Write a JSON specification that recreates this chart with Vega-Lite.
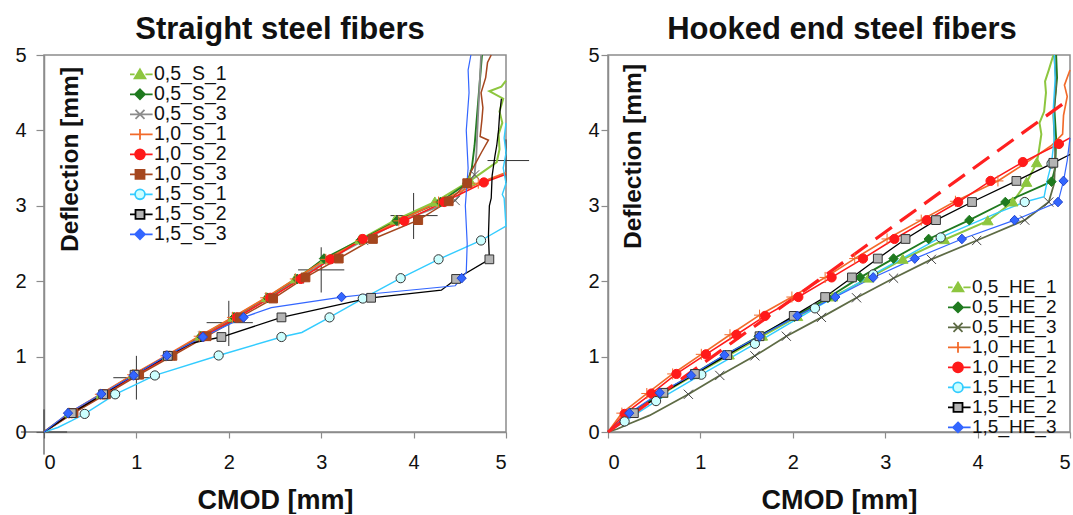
{
  "$schema": "https://vega.github.io/schema/vega-lite/v6.json",
  "padding": {"left": 14, "top": 13, "right": 0, "bottom": 0},
  "spacing": 56,
  "config": {
    "font": "Liberation Sans",
    "view": {"stroke": "#8c8c8c", "strokeWidth": 1.5},
    "axis": {"domainColor": "#8c8c8c", "domainWidth": 1.5, "tickColor": "#8c8c8c", "tickWidth": 1.2, "labelColor": "#111", "titleColor": "#111", "titleFontWeight": "bold", "labelFont": "Liberation Sans", "titleFont": "Liberation Sans", "grid": false},
    "legend": {"labelFont": "Liberation Sans"}
  },
  "resolve": {"scale": {"x": "independent", "y": "independent", "color": "independent", "fill": "independent", "stroke": "independent", "shape": "independent", "strokeWidth": "independent"}, "legend": {"color": "independent"}},
  "datasets": {
    "S_cross": [
      {"cmod": 0, "defl": 0, "cmod_lo": -0.25, "cmod_hi": 0.25, "defl_lo": -0.3, "defl_hi": 0.3},
      {"cmod": 1.0, "defl": 0.72, "cmod_lo": 0.75, "cmod_hi": 1.25, "defl_lo": 0.43, "defl_hi": 1.01},
      {"cmod": 2.0, "defl": 1.45, "cmod_lo": 1.76, "cmod_hi": 2.26, "defl_lo": 1.14, "defl_hi": 1.74},
      {"cmod": 3.0, "defl": 2.15, "cmod_lo": 2.75, "cmod_hi": 3.25, "defl_lo": 1.85, "defl_hi": 2.45},
      {"cmod": 4.0, "defl": 2.87, "cmod_lo": 3.75, "cmod_hi": 4.26, "defl_lo": 2.56, "defl_hi": 3.17},
      {"cmod": 5.0, "defl": 3.6, "cmod_lo": 4.8, "cmod_hi": 5.25, "defl_lo": 3.3, "defl_hi": 3.88}
    ],
    "S_curves": [
      {"series": "0,5_S_1", "cmod": 0, "defl": 0}, {"series": "0,5_S_1", "cmod": 0.28, "defl": 0.25}, {"series": "0,5_S_1", "cmod": 0.62, "defl": 0.5}, {"series": "0,5_S_1", "cmod": 0.97, "defl": 0.76}, {"series": "0,5_S_1", "cmod": 1.34, "defl": 1.01}, {"series": "0,5_S_1", "cmod": 1.69, "defl": 1.27}, {"series": "0,5_S_1", "cmod": 2.05, "defl": 1.52}, {"series": "0,5_S_1", "cmod": 2.41, "defl": 1.78}, {"series": "0,5_S_1", "cmod": 2.72, "defl": 2.03}, {"series": "0,5_S_1", "cmod": 3.04, "defl": 2.29}, {"series": "0,5_S_1", "cmod": 3.42, "defl": 2.55}, {"series": "0,5_S_1", "cmod": 3.8, "defl": 2.81}, {"series": "0,5_S_1", "cmod": 4.23, "defl": 3.05}, {"series": "0,5_S_1", "cmod": 4.61, "defl": 3.33}, {"series": "0,5_S_1", "cmod": 4.75, "defl": 3.45}, {"series": "0,5_S_1", "cmod": 4.9, "defl": 3.58}, {"series": "0,5_S_1", "cmod": 4.93, "defl": 3.75}, {"series": "0,5_S_1", "cmod": 4.92, "defl": 3.95}, {"series": "0,5_S_1", "cmod": 4.96, "defl": 4.1}, {"series": "0,5_S_1", "cmod": 4.93, "defl": 4.25}, {"series": "0,5_S_1", "cmod": 4.97, "defl": 4.42}, {"series": "0,5_S_1", "cmod": 4.82, "defl": 4.52}, {"series": "0,5_S_1", "cmod": 4.95, "defl": 4.58}, {"series": "0,5_S_1", "cmod": 5.0, "defl": 4.66},
      {"series": "0,5_S_2", "cmod": 0, "defl": 0}, {"series": "0,5_S_2", "cmod": 0.29, "defl": 0.25}, {"series": "0,5_S_2", "cmod": 0.63, "defl": 0.5}, {"series": "0,5_S_2", "cmod": 0.98, "defl": 0.76}, {"series": "0,5_S_2", "cmod": 1.34, "defl": 1.01}, {"series": "0,5_S_2", "cmod": 1.7, "defl": 1.27}, {"series": "0,5_S_2", "cmod": 2.06, "defl": 1.52}, {"series": "0,5_S_2", "cmod": 2.42, "defl": 1.78}, {"series": "0,5_S_2", "cmod": 2.74, "defl": 2.03}, {"series": "0,5_S_2", "cmod": 3.03, "defl": 2.3}, {"series": "0,5_S_2", "cmod": 3.43, "defl": 2.55}, {"series": "0,5_S_2", "cmod": 3.82, "defl": 2.8}, {"series": "0,5_S_2", "cmod": 4.29, "defl": 3.05}, {"series": "0,5_S_2", "cmod": 4.58, "defl": 3.3}, {"series": "0,5_S_2", "cmod": 4.63, "defl": 3.5}, {"series": "0,5_S_2", "cmod": 4.66, "defl": 3.8}, {"series": "0,5_S_2", "cmod": 4.68, "defl": 4.1}, {"series": "0,5_S_2", "cmod": 4.7, "defl": 4.4}, {"series": "0,5_S_2", "cmod": 4.72, "defl": 4.7}, {"series": "0,5_S_2", "cmod": 4.74, "defl": 5.0},
      {"series": "0,5_S_3", "cmod": 0, "defl": 0}, {"series": "0,5_S_3", "cmod": 0.31, "defl": 0.25}, {"series": "0,5_S_3", "cmod": 0.65, "defl": 0.5}, {"series": "0,5_S_3", "cmod": 1.0, "defl": 0.76}, {"series": "0,5_S_3", "cmod": 1.36, "defl": 1.01}, {"series": "0,5_S_3", "cmod": 1.72, "defl": 1.27}, {"series": "0,5_S_3", "cmod": 2.08, "defl": 1.52}, {"series": "0,5_S_3", "cmod": 2.44, "defl": 1.78}, {"series": "0,5_S_3", "cmod": 2.76, "defl": 2.03}, {"series": "0,5_S_3", "cmod": 3.08, "defl": 2.29}, {"series": "0,5_S_3", "cmod": 3.46, "defl": 2.54}, {"series": "0,5_S_3", "cmod": 3.86, "defl": 2.8}, {"series": "0,5_S_3", "cmod": 4.45, "defl": 3.07}, {"series": "0,5_S_3", "cmod": 4.66, "defl": 3.41}, {"series": "0,5_S_3", "cmod": 4.68, "defl": 3.7}, {"series": "0,5_S_3", "cmod": 4.69, "defl": 4.0}, {"series": "0,5_S_3", "cmod": 4.71, "defl": 4.5}, {"series": "0,5_S_3", "cmod": 4.73, "defl": 5.0},
      {"series": "1,0_S_1", "cmod": 0, "defl": 0}, {"series": "1,0_S_1", "cmod": 0.27, "defl": 0.25}, {"series": "1,0_S_1", "cmod": 0.61, "defl": 0.5}, {"series": "1,0_S_1", "cmod": 0.96, "defl": 0.76}, {"series": "1,0_S_1", "cmod": 1.32, "defl": 1.01}, {"series": "1,0_S_1", "cmod": 1.68, "defl": 1.27}, {"series": "1,0_S_1", "cmod": 2.04, "defl": 1.52}, {"series": "1,0_S_1", "cmod": 2.4, "defl": 1.78}, {"series": "1,0_S_1", "cmod": 2.72, "defl": 2.03}, {"series": "1,0_S_1", "cmod": 3.05, "defl": 2.29}, {"series": "1,0_S_1", "cmod": 3.43, "defl": 2.54}, {"series": "1,0_S_1", "cmod": 3.84, "defl": 2.8}, {"series": "1,0_S_1", "cmod": 4.27, "defl": 3.05}, {"series": "1,0_S_1", "cmod": 4.7, "defl": 3.3}, {"series": "1,0_S_1", "cmod": 5.0, "defl": 3.44},
      {"series": "1,0_S_2", "cmod": 0, "defl": 0}, {"series": "1,0_S_2", "cmod": 0.3, "defl": 0.25}, {"series": "1,0_S_2", "cmod": 0.65, "defl": 0.5}, {"series": "1,0_S_2", "cmod": 1.0, "defl": 0.76}, {"series": "1,0_S_2", "cmod": 1.36, "defl": 1.01}, {"series": "1,0_S_2", "cmod": 1.73, "defl": 1.27}, {"series": "1,0_S_2", "cmod": 2.09, "defl": 1.52}, {"series": "1,0_S_2", "cmod": 2.45, "defl": 1.78}, {"series": "1,0_S_2", "cmod": 2.78, "defl": 2.03}, {"series": "1,0_S_2", "cmod": 3.1, "defl": 2.29}, {"series": "1,0_S_2", "cmod": 3.45, "defl": 2.56}, {"series": "1,0_S_2", "cmod": 3.9, "defl": 2.8}, {"series": "1,0_S_2", "cmod": 4.33, "defl": 3.05}, {"series": "1,0_S_2", "cmod": 4.76, "defl": 3.31}, {"series": "1,0_S_2", "cmod": 5.0, "defl": 3.42},
      {"series": "1,0_S_3", "cmod": 0, "defl": 0}, {"series": "1,0_S_3", "cmod": 0.32, "defl": 0.25}, {"series": "1,0_S_3", "cmod": 0.67, "defl": 0.5}, {"series": "1,0_S_3", "cmod": 1.03, "defl": 0.76}, {"series": "1,0_S_3", "cmod": 1.39, "defl": 1.01}, {"series": "1,0_S_3", "cmod": 1.76, "defl": 1.27}, {"series": "1,0_S_3", "cmod": 2.12, "defl": 1.52}, {"series": "1,0_S_3", "cmod": 2.48, "defl": 1.77}, {"series": "1,0_S_3", "cmod": 2.83, "defl": 2.05}, {"series": "1,0_S_3", "cmod": 3.19, "defl": 2.3}, {"series": "1,0_S_3", "cmod": 3.56, "defl": 2.56}, {"series": "1,0_S_3", "cmod": 4.05, "defl": 2.81}, {"series": "1,0_S_3", "cmod": 4.38, "defl": 3.06}, {"series": "1,0_S_3", "cmod": 4.58, "defl": 3.3}, {"series": "1,0_S_3", "cmod": 4.62, "defl": 3.45}, {"series": "1,0_S_3", "cmod": 4.74, "defl": 3.72}, {"series": "1,0_S_3", "cmod": 4.81, "defl": 3.87}, {"series": "1,0_S_3", "cmod": 4.72, "defl": 3.92}, {"series": "1,0_S_3", "cmod": 4.74, "defl": 4.15}, {"series": "1,0_S_3", "cmod": 4.75, "defl": 4.3}, {"series": "1,0_S_3", "cmod": 4.73, "defl": 4.5}, {"series": "1,0_S_3", "cmod": 4.78, "defl": 4.7}, {"series": "1,0_S_3", "cmod": 4.8, "defl": 4.9}, {"series": "1,0_S_3", "cmod": 4.84, "defl": 5.0},
      {"series": "1,5_S_1", "cmod": 0, "defl": 0}, {"series": "1,5_S_1", "cmod": 0.15, "defl": 0.06}, {"series": "1,5_S_1", "cmod": 0.3, "defl": 0.15}, {"series": "1,5_S_1", "cmod": 0.44, "defl": 0.24}, {"series": "1,5_S_1", "cmod": 0.77, "defl": 0.5}, {"series": "1,5_S_1", "cmod": 1.2, "defl": 0.75}, {"series": "1,5_S_1", "cmod": 1.89, "defl": 1.015}, {"series": "1,5_S_1", "cmod": 2.57, "defl": 1.26}, {"series": "1,5_S_1", "cmod": 2.79, "defl": 1.32}, {"series": "1,5_S_1", "cmod": 3.09, "defl": 1.52}, {"series": "1,5_S_1", "cmod": 3.45, "defl": 1.77}, {"series": "1,5_S_1", "cmod": 3.86, "defl": 2.04}, {"series": "1,5_S_1", "cmod": 4.27, "defl": 2.29}, {"series": "1,5_S_1", "cmod": 4.73, "defl": 2.54}, {"series": "1,5_S_1", "cmod": 5.0, "defl": 2.73}, {"series": "1,5_S_1", "cmod": 4.98, "defl": 3.1}, {"series": "1,5_S_1", "cmod": 4.96, "defl": 3.15}, {"series": "1,5_S_1", "cmod": 5.0, "defl": 3.3}, {"series": "1,5_S_1", "cmod": 4.97, "defl": 3.5}, {"series": "1,5_S_1", "cmod": 5.0, "defl": 3.7}, {"series": "1,5_S_1", "cmod": 4.98, "defl": 3.9}, {"series": "1,5_S_1", "cmod": 5.0, "defl": 4.1},
      {"series": "1,5_S_2", "cmod": 0, "defl": 0}, {"series": "1,5_S_2", "cmod": 0.3, "defl": 0.25}, {"series": "1,5_S_2", "cmod": 0.64, "defl": 0.5}, {"series": "1,5_S_2", "cmod": 0.98, "defl": 0.76}, {"series": "1,5_S_2", "cmod": 1.34, "defl": 1.01}, {"series": "1,5_S_2", "cmod": 1.6, "defl": 1.18}, {"series": "1,5_S_2", "cmod": 1.92, "defl": 1.26}, {"series": "1,5_S_2", "cmod": 2.57, "defl": 1.52}, {"series": "1,5_S_2", "cmod": 3.38, "defl": 1.74}, {"series": "1,5_S_2", "cmod": 3.54, "defl": 1.78}, {"series": "1,5_S_2", "cmod": 4.3, "defl": 1.88}, {"series": "1,5_S_2", "cmod": 4.46, "defl": 2.03}, {"series": "1,5_S_2", "cmod": 4.82, "defl": 2.29}, {"series": "1,5_S_2", "cmod": 4.81, "defl": 2.6}, {"series": "1,5_S_2", "cmod": 4.82, "defl": 3.0}, {"series": "1,5_S_2", "cmod": 4.84, "defl": 3.1}, {"series": "1,5_S_2", "cmod": 4.85, "defl": 3.4}, {"series": "1,5_S_2", "cmod": 4.88, "defl": 3.66}, {"series": "1,5_S_2", "cmod": 4.9, "defl": 3.8}, {"series": "1,5_S_2", "cmod": 4.92, "defl": 4.01}, {"series": "1,5_S_2", "cmod": 4.93, "defl": 4.2}, {"series": "1,5_S_2", "cmod": 4.95, "defl": 4.42},
      {"series": "1,5_S_3", "cmod": 0, "defl": 0}, {"series": "1,5_S_3", "cmod": 0.26, "defl": 0.25}, {"series": "1,5_S_3", "cmod": 0.62, "defl": 0.505}, {"series": "1,5_S_3", "cmod": 0.97, "defl": 0.75}, {"series": "1,5_S_3", "cmod": 1.33, "defl": 1.015}, {"series": "1,5_S_3", "cmod": 1.72, "defl": 1.26}, {"series": "1,5_S_3", "cmod": 2.16, "defl": 1.52}, {"series": "1,5_S_3", "cmod": 2.46, "defl": 1.65}, {"series": "1,5_S_3", "cmod": 3.22, "defl": 1.79}, {"series": "1,5_S_3", "cmod": 3.53, "defl": 1.83}, {"series": "1,5_S_3", "cmod": 4.45, "defl": 1.94}, {"series": "1,5_S_3", "cmod": 4.52, "defl": 2.04}, {"series": "1,5_S_3", "cmod": 4.57, "defl": 2.12}, {"series": "1,5_S_3", "cmod": 4.58, "defl": 2.5}, {"series": "1,5_S_3", "cmod": 4.56, "defl": 3.0}, {"series": "1,5_S_3", "cmod": 4.59, "defl": 3.5}, {"series": "1,5_S_3", "cmod": 4.57, "defl": 4.0}, {"series": "1,5_S_3", "cmod": 4.6, "defl": 4.5}, {"series": "1,5_S_3", "cmod": 4.59, "defl": 4.8}, {"series": "1,5_S_3", "cmod": 4.62, "defl": 5.0}
    ],
    "S_markers": [
      {"specimen": "0,5_S_1", "cmod": 0.28, "defl": 0.25}, {"specimen": "0,5_S_1", "cmod": 0.62, "defl": 0.5}, {"specimen": "0,5_S_1", "cmod": 0.97, "defl": 0.76}, {"specimen": "0,5_S_1", "cmod": 1.34, "defl": 1.01}, {"specimen": "0,5_S_1", "cmod": 1.69, "defl": 1.27}, {"specimen": "0,5_S_1", "cmod": 2.05, "defl": 1.52}, {"specimen": "0,5_S_1", "cmod": 2.41, "defl": 1.78}, {"specimen": "0,5_S_1", "cmod": 2.72, "defl": 2.03}, {"specimen": "0,5_S_1", "cmod": 3.04, "defl": 2.29}, {"specimen": "0,5_S_1", "cmod": 3.42, "defl": 2.55}, {"specimen": "0,5_S_1", "cmod": 3.8, "defl": 2.81}, {"specimen": "0,5_S_1", "cmod": 4.23, "defl": 3.05}, {"specimen": "0,5_S_1", "cmod": 4.61, "defl": 3.33},
      {"specimen": "0,5_S_2", "cmod": 0.29, "defl": 0.25}, {"specimen": "0,5_S_2", "cmod": 0.63, "defl": 0.5}, {"specimen": "0,5_S_2", "cmod": 0.98, "defl": 0.76}, {"specimen": "0,5_S_2", "cmod": 1.34, "defl": 1.01}, {"specimen": "0,5_S_2", "cmod": 1.7, "defl": 1.27}, {"specimen": "0,5_S_2", "cmod": 2.06, "defl": 1.52}, {"specimen": "0,5_S_2", "cmod": 2.42, "defl": 1.78}, {"specimen": "0,5_S_2", "cmod": 2.74, "defl": 2.03}, {"specimen": "0,5_S_2", "cmod": 3.03, "defl": 2.3}, {"specimen": "0,5_S_2", "cmod": 3.43, "defl": 2.55}, {"specimen": "0,5_S_2", "cmod": 3.82, "defl": 2.8}, {"specimen": "0,5_S_2", "cmod": 4.29, "defl": 3.05}, {"specimen": "0,5_S_2", "cmod": 4.58, "defl": 3.3},
      {"specimen": "0,5_S_3", "cmod": 0.31, "defl": 0.25}, {"specimen": "0,5_S_3", "cmod": 0.65, "defl": 0.5}, {"specimen": "0,5_S_3", "cmod": 1.0, "defl": 0.76}, {"specimen": "0,5_S_3", "cmod": 1.36, "defl": 1.01}, {"specimen": "0,5_S_3", "cmod": 1.72, "defl": 1.27}, {"specimen": "0,5_S_3", "cmod": 2.08, "defl": 1.52}, {"specimen": "0,5_S_3", "cmod": 2.44, "defl": 1.78}, {"specimen": "0,5_S_3", "cmod": 2.76, "defl": 2.03}, {"specimen": "0,5_S_3", "cmod": 3.08, "defl": 2.29}, {"specimen": "0,5_S_3", "cmod": 3.46, "defl": 2.54}, {"specimen": "0,5_S_3", "cmod": 3.86, "defl": 2.8}, {"specimen": "0,5_S_3", "cmod": 4.45, "defl": 3.07}, {"specimen": "0,5_S_3", "cmod": 4.66, "defl": 3.41},
      {"specimen": "1,0_S_1", "cmod": 0.27, "defl": 0.25}, {"specimen": "1,0_S_1", "cmod": 0.61, "defl": 0.5}, {"specimen": "1,0_S_1", "cmod": 0.96, "defl": 0.76}, {"specimen": "1,0_S_1", "cmod": 1.32, "defl": 1.01}, {"specimen": "1,0_S_1", "cmod": 1.68, "defl": 1.27}, {"specimen": "1,0_S_1", "cmod": 2.04, "defl": 1.52}, {"specimen": "1,0_S_1", "cmod": 2.4, "defl": 1.78}, {"specimen": "1,0_S_1", "cmod": 2.72, "defl": 2.03}, {"specimen": "1,0_S_1", "cmod": 3.05, "defl": 2.29}, {"specimen": "1,0_S_1", "cmod": 3.43, "defl": 2.54}, {"specimen": "1,0_S_1", "cmod": 3.84, "defl": 2.8}, {"specimen": "1,0_S_1", "cmod": 4.27, "defl": 3.05}, {"specimen": "1,0_S_1", "cmod": 4.7, "defl": 3.3},
      {"specimen": "1,0_S_2", "cmod": 0.3, "defl": 0.25}, {"specimen": "1,0_S_2", "cmod": 0.65, "defl": 0.5}, {"specimen": "1,0_S_2", "cmod": 1.0, "defl": 0.76}, {"specimen": "1,0_S_2", "cmod": 1.36, "defl": 1.01}, {"specimen": "1,0_S_2", "cmod": 1.73, "defl": 1.27}, {"specimen": "1,0_S_2", "cmod": 2.09, "defl": 1.52}, {"specimen": "1,0_S_2", "cmod": 2.45, "defl": 1.78}, {"specimen": "1,0_S_2", "cmod": 2.78, "defl": 2.03}, {"specimen": "1,0_S_2", "cmod": 3.1, "defl": 2.29}, {"specimen": "1,0_S_2", "cmod": 3.45, "defl": 2.56}, {"specimen": "1,0_S_2", "cmod": 3.9, "defl": 2.8}, {"specimen": "1,0_S_2", "cmod": 4.33, "defl": 3.05}, {"specimen": "1,0_S_2", "cmod": 4.76, "defl": 3.31},
      {"specimen": "1,0_S_3", "cmod": 0.32, "defl": 0.25}, {"specimen": "1,0_S_3", "cmod": 0.67, "defl": 0.5}, {"specimen": "1,0_S_3", "cmod": 1.03, "defl": 0.76}, {"specimen": "1,0_S_3", "cmod": 1.39, "defl": 1.01}, {"specimen": "1,0_S_3", "cmod": 1.76, "defl": 1.27}, {"specimen": "1,0_S_3", "cmod": 2.12, "defl": 1.52}, {"specimen": "1,0_S_3", "cmod": 2.48, "defl": 1.77}, {"specimen": "1,0_S_3", "cmod": 2.83, "defl": 2.05}, {"specimen": "1,0_S_3", "cmod": 3.19, "defl": 2.3}, {"specimen": "1,0_S_3", "cmod": 3.56, "defl": 2.56}, {"specimen": "1,0_S_3", "cmod": 4.05, "defl": 2.81}, {"specimen": "1,0_S_3", "cmod": 4.38, "defl": 3.06}, {"specimen": "1,0_S_3", "cmod": 4.58, "defl": 3.3},
      {"specimen": "1,5_S_1", "cmod": 0.44, "defl": 0.24}, {"specimen": "1,5_S_1", "cmod": 0.77, "defl": 0.5}, {"specimen": "1,5_S_1", "cmod": 1.2, "defl": 0.75}, {"specimen": "1,5_S_1", "cmod": 1.89, "defl": 1.015}, {"specimen": "1,5_S_1", "cmod": 2.57, "defl": 1.26}, {"specimen": "1,5_S_1", "cmod": 3.09, "defl": 1.52}, {"specimen": "1,5_S_1", "cmod": 3.45, "defl": 1.77}, {"specimen": "1,5_S_1", "cmod": 3.86, "defl": 2.04}, {"specimen": "1,5_S_1", "cmod": 4.27, "defl": 2.29}, {"specimen": "1,5_S_1", "cmod": 4.73, "defl": 2.54},
      {"specimen": "1,5_S_2", "cmod": 0.3, "defl": 0.25}, {"specimen": "1,5_S_2", "cmod": 0.64, "defl": 0.5}, {"specimen": "1,5_S_2", "cmod": 0.98, "defl": 0.76}, {"specimen": "1,5_S_2", "cmod": 1.34, "defl": 1.01}, {"specimen": "1,5_S_2", "cmod": 1.92, "defl": 1.26}, {"specimen": "1,5_S_2", "cmod": 2.57, "defl": 1.52}, {"specimen": "1,5_S_2", "cmod": 3.54, "defl": 1.78}, {"specimen": "1,5_S_2", "cmod": 4.46, "defl": 2.03}, {"specimen": "1,5_S_2", "cmod": 4.82, "defl": 2.29},
      {"specimen": "1,5_S_3", "cmod": 0.26, "defl": 0.25}, {"specimen": "1,5_S_3", "cmod": 0.62, "defl": 0.505}, {"specimen": "1,5_S_3", "cmod": 0.97, "defl": 0.75}, {"specimen": "1,5_S_3", "cmod": 1.33, "defl": 1.015}, {"specimen": "1,5_S_3", "cmod": 1.72, "defl": 1.26}, {"specimen": "1,5_S_3", "cmod": 2.16, "defl": 1.52}, {"specimen": "1,5_S_3", "cmod": 3.22, "defl": 1.79}, {"specimen": "1,5_S_3", "cmod": 4.52, "defl": 2.04}
    ],
    "HE_fit": [
      {"cmod": 0, "defl": 0}, {"cmod": 5.0, "defl": 4.42}
    ],
    "HE_curves": [
      {"series": "0,5_HE_1", "cmod": 0, "defl": 0}, {"series": "0,5_HE_1", "cmod": 0.25, "defl": 0.25}, {"series": "0,5_HE_1", "cmod": 0.59, "defl": 0.51}, {"series": "0,5_HE_1", "cmod": 0.94, "defl": 0.76}, {"series": "0,5_HE_1", "cmod": 1.31, "defl": 1.02}, {"series": "0,5_HE_1", "cmod": 1.67, "defl": 1.27}, {"series": "0,5_HE_1", "cmod": 2.05, "defl": 1.53}, {"series": "0,5_HE_1", "cmod": 2.43, "defl": 1.79}, {"series": "0,5_HE_1", "cmod": 2.82, "defl": 2.04}, {"series": "0,5_HE_1", "cmod": 3.19, "defl": 2.29}, {"series": "0,5_HE_1", "cmod": 3.64, "defl": 2.55}, {"series": "0,5_HE_1", "cmod": 4.11, "defl": 2.8}, {"series": "0,5_HE_1", "cmod": 4.38, "defl": 3.05}, {"series": "0,5_HE_1", "cmod": 4.53, "defl": 3.31}, {"series": "0,5_HE_1", "cmod": 4.64, "defl": 3.57}, {"series": "0,5_HE_1", "cmod": 4.66, "defl": 3.7}, {"series": "0,5_HE_1", "cmod": 4.69, "defl": 3.95}, {"series": "0,5_HE_1", "cmod": 4.67, "defl": 4.1}, {"series": "0,5_HE_1", "cmod": 4.72, "defl": 4.25}, {"series": "0,5_HE_1", "cmod": 4.74, "defl": 4.5}, {"series": "0,5_HE_1", "cmod": 4.73, "defl": 4.65}, {"series": "0,5_HE_1", "cmod": 4.77, "defl": 4.8}, {"series": "0,5_HE_1", "cmod": 4.82, "defl": 5.0},
      {"series": "0,5_HE_2", "cmod": 0, "defl": 0}, {"series": "0,5_HE_2", "cmod": 0.24, "defl": 0.25}, {"series": "0,5_HE_2", "cmod": 0.57, "defl": 0.51}, {"series": "0,5_HE_2", "cmod": 0.91, "defl": 0.76}, {"series": "0,5_HE_2", "cmod": 1.27, "defl": 1.02}, {"series": "0,5_HE_2", "cmod": 1.63, "defl": 1.27}, {"series": "0,5_HE_2", "cmod": 2.02, "defl": 1.53}, {"series": "0,5_HE_2", "cmod": 2.38, "defl": 1.78}, {"series": "0,5_HE_2", "cmod": 2.73, "defl": 2.05}, {"series": "0,5_HE_2", "cmod": 3.09, "defl": 2.3}, {"series": "0,5_HE_2", "cmod": 3.47, "defl": 2.56}, {"series": "0,5_HE_2", "cmod": 3.91, "defl": 2.81}, {"series": "0,5_HE_2", "cmod": 4.3, "defl": 3.05}, {"series": "0,5_HE_2", "cmod": 4.8, "defl": 3.32}, {"series": "0,5_HE_2", "cmod": 4.84, "defl": 3.5}, {"series": "0,5_HE_2", "cmod": 4.85, "defl": 3.9}, {"series": "0,5_HE_2", "cmod": 4.83, "defl": 4.3}, {"series": "0,5_HE_2", "cmod": 4.86, "defl": 4.7}, {"series": "0,5_HE_2", "cmod": 4.85, "defl": 5.0},
      {"series": "0,5_HE_3", "cmod": 0, "defl": 0}, {"series": "0,5_HE_3", "cmod": 0.1, "defl": 0.04}, {"series": "0,5_HE_3", "cmod": 0.25, "defl": 0.12}, {"series": "0,5_HE_3", "cmod": 0.45, "defl": 0.22}, {"series": "0,5_HE_3", "cmod": 0.87, "defl": 0.5}, {"series": "0,5_HE_3", "cmod": 1.21, "defl": 0.75}, {"series": "0,5_HE_3", "cmod": 1.59, "defl": 1.01}, {"series": "0,5_HE_3", "cmod": 1.93, "defl": 1.27}, {"series": "0,5_HE_3", "cmod": 2.31, "defl": 1.52}, {"series": "0,5_HE_3", "cmod": 2.69, "defl": 1.78}, {"series": "0,5_HE_3", "cmod": 3.09, "defl": 2.04}, {"series": "0,5_HE_3", "cmod": 3.5, "defl": 2.29}, {"series": "0,5_HE_3", "cmod": 3.99, "defl": 2.54}, {"series": "0,5_HE_3", "cmod": 4.51, "defl": 2.81}, {"series": "0,5_HE_3", "cmod": 4.77, "defl": 3.05}, {"series": "0,5_HE_3", "cmod": 4.83, "defl": 3.3}, {"series": "0,5_HE_3", "cmod": 4.84, "defl": 3.7}, {"series": "0,5_HE_3", "cmod": 4.82, "defl": 4.2}, {"series": "0,5_HE_3", "cmod": 4.85, "defl": 4.6}, {"series": "0,5_HE_3", "cmod": 4.83, "defl": 5.0},
      {"series": "1,0_HE_1", "cmod": 0, "defl": 0}, {"series": "1,0_HE_1", "cmod": 0.15, "defl": 0.25}, {"series": "1,0_HE_1", "cmod": 0.42, "defl": 0.51}, {"series": "1,0_HE_1", "cmod": 0.7, "defl": 0.77}, {"series": "1,0_HE_1", "cmod": 1.01, "defl": 1.03}, {"series": "1,0_HE_1", "cmod": 1.32, "defl": 1.29}, {"series": "1,0_HE_1", "cmod": 1.64, "defl": 1.55}, {"series": "1,0_HE_1", "cmod": 1.99, "defl": 1.79}, {"series": "1,0_HE_1", "cmod": 2.35, "defl": 2.05}, {"series": "1,0_HE_1", "cmod": 2.67, "defl": 2.3}, {"series": "1,0_HE_1", "cmod": 3.02, "defl": 2.56}, {"series": "1,0_HE_1", "cmod": 3.39, "defl": 2.81}, {"series": "1,0_HE_1", "cmod": 3.76, "defl": 3.06}, {"series": "1,0_HE_1", "cmod": 4.22, "defl": 3.33}, {"series": "1,0_HE_1", "cmod": 4.5, "defl": 3.55}, {"series": "1,0_HE_1", "cmod": 4.8, "defl": 3.8}, {"series": "1,0_HE_1", "cmod": 4.92, "defl": 3.95}, {"series": "1,0_HE_1", "cmod": 4.93, "defl": 4.2}, {"series": "1,0_HE_1", "cmod": 4.97, "defl": 4.45}, {"series": "1,0_HE_1", "cmod": 4.94, "defl": 4.6}, {"series": "1,0_HE_1", "cmod": 5.0, "defl": 4.8},
      {"series": "1,0_HE_2", "cmod": 0, "defl": 0}, {"series": "1,0_HE_2", "cmod": 0.18, "defl": 0.24}, {"series": "1,0_HE_2", "cmod": 0.47, "defl": 0.51}, {"series": "1,0_HE_2", "cmod": 0.74, "defl": 0.77}, {"series": "1,0_HE_2", "cmod": 1.06, "defl": 1.03}, {"series": "1,0_HE_2", "cmod": 1.39, "defl": 1.29}, {"series": "1,0_HE_2", "cmod": 1.7, "defl": 1.54}, {"series": "1,0_HE_2", "cmod": 2.06, "defl": 1.79}, {"series": "1,0_HE_2", "cmod": 2.42, "defl": 2.05}, {"series": "1,0_HE_2", "cmod": 2.76, "defl": 2.3}, {"series": "1,0_HE_2", "cmod": 3.1, "defl": 2.56}, {"series": "1,0_HE_2", "cmod": 3.45, "defl": 2.81}, {"series": "1,0_HE_2", "cmod": 3.79, "defl": 3.05}, {"series": "1,0_HE_2", "cmod": 4.14, "defl": 3.33}, {"series": "1,0_HE_2", "cmod": 4.49, "defl": 3.58}, {"series": "1,0_HE_2", "cmod": 4.88, "defl": 3.82}, {"series": "1,0_HE_2", "cmod": 5.0, "defl": 3.9},
      {"series": "1,5_HE_1", "cmod": 0, "defl": 0}, {"series": "1,5_HE_1", "cmod": 0.18, "defl": 0.14}, {"series": "1,5_HE_1", "cmod": 0.52, "defl": 0.41}, {"series": "1,5_HE_1", "cmod": 1.01, "defl": 0.76}, {"series": "1,5_HE_1", "cmod": 1.59, "defl": 1.17}, {"series": "1,5_HE_1", "cmod": 2.24, "defl": 1.64}, {"series": "1,5_HE_1", "cmod": 2.87, "defl": 2.09}, {"series": "1,5_HE_1", "cmod": 3.6, "defl": 2.58}, {"series": "1,5_HE_1", "cmod": 4.2, "defl": 2.9}, {"series": "1,5_HE_1", "cmod": 4.51, "defl": 3.05}, {"series": "1,5_HE_1", "cmod": 4.72, "defl": 3.12}, {"series": "1,5_HE_1", "cmod": 4.76, "defl": 3.37}, {"series": "1,5_HE_1", "cmod": 4.8, "defl": 3.56}, {"series": "1,5_HE_1", "cmod": 4.83, "defl": 3.9}, {"series": "1,5_HE_1", "cmod": 4.82, "defl": 4.3}, {"series": "1,5_HE_1", "cmod": 4.84, "defl": 4.7}, {"series": "1,5_HE_1", "cmod": 4.83, "defl": 5.0},
      {"series": "1,5_HE_2", "cmod": 0, "defl": 0}, {"series": "1,5_HE_2", "cmod": 0.28, "defl": 0.25}, {"series": "1,5_HE_2", "cmod": 0.6, "defl": 0.52}, {"series": "1,5_HE_2", "cmod": 0.94, "defl": 0.77}, {"series": "1,5_HE_2", "cmod": 1.29, "defl": 1.02}, {"series": "1,5_HE_2", "cmod": 1.64, "defl": 1.27}, {"series": "1,5_HE_2", "cmod": 2.01, "defl": 1.54}, {"series": "1,5_HE_2", "cmod": 2.35, "defl": 1.79}, {"series": "1,5_HE_2", "cmod": 2.64, "defl": 2.05}, {"series": "1,5_HE_2", "cmod": 2.92, "defl": 2.3}, {"series": "1,5_HE_2", "cmod": 3.22, "defl": 2.56}, {"series": "1,5_HE_2", "cmod": 3.55, "defl": 2.81}, {"series": "1,5_HE_2", "cmod": 3.94, "defl": 3.05}, {"series": "1,5_HE_2", "cmod": 4.42, "defl": 3.33}, {"series": "1,5_HE_2", "cmod": 4.82, "defl": 3.57}, {"series": "1,5_HE_2", "cmod": 5.0, "defl": 3.68},
      {"series": "1,5_HE_3", "cmod": 0, "defl": 0}, {"series": "1,5_HE_3", "cmod": 0.23, "defl": 0.25}, {"series": "1,5_HE_3", "cmod": 0.56, "defl": 0.52}, {"series": "1,5_HE_3", "cmod": 0.9, "defl": 0.75}, {"series": "1,5_HE_3", "cmod": 1.26, "defl": 1.02}, {"series": "1,5_HE_3", "cmod": 1.64, "defl": 1.27}, {"series": "1,5_HE_3", "cmod": 2.05, "defl": 1.54}, {"series": "1,5_HE_3", "cmod": 2.46, "defl": 1.79}, {"series": "1,5_HE_3", "cmod": 2.87, "defl": 2.05}, {"series": "1,5_HE_3", "cmod": 3.32, "defl": 2.3}, {"series": "1,5_HE_3", "cmod": 3.83, "defl": 2.56}, {"series": "1,5_HE_3", "cmod": 4.4, "defl": 2.81}, {"series": "1,5_HE_3", "cmod": 4.87, "defl": 3.05}, {"series": "1,5_HE_3", "cmod": 4.93, "defl": 3.33}, {"series": "1,5_HE_3", "cmod": 4.97, "defl": 3.6}, {"series": "1,5_HE_3", "cmod": 5.0, "defl": 3.9}
    ],
    "HE_markers": [
      {"specimen": "0,5_HE_1", "cmod": 0.25, "defl": 0.25}, {"specimen": "0,5_HE_1", "cmod": 0.59, "defl": 0.51}, {"specimen": "0,5_HE_1", "cmod": 0.94, "defl": 0.76}, {"specimen": "0,5_HE_1", "cmod": 1.31, "defl": 1.02}, {"specimen": "0,5_HE_1", "cmod": 1.67, "defl": 1.27}, {"specimen": "0,5_HE_1", "cmod": 2.05, "defl": 1.53}, {"specimen": "0,5_HE_1", "cmod": 2.43, "defl": 1.79}, {"specimen": "0,5_HE_1", "cmod": 2.82, "defl": 2.04}, {"specimen": "0,5_HE_1", "cmod": 3.19, "defl": 2.29}, {"specimen": "0,5_HE_1", "cmod": 3.64, "defl": 2.55}, {"specimen": "0,5_HE_1", "cmod": 4.11, "defl": 2.8}, {"specimen": "0,5_HE_1", "cmod": 4.38, "defl": 3.05}, {"specimen": "0,5_HE_1", "cmod": 4.53, "defl": 3.31}, {"specimen": "0,5_HE_1", "cmod": 4.64, "defl": 3.57},
      {"specimen": "0,5_HE_2", "cmod": 0.24, "defl": 0.25}, {"specimen": "0,5_HE_2", "cmod": 0.57, "defl": 0.51}, {"specimen": "0,5_HE_2", "cmod": 0.91, "defl": 0.76}, {"specimen": "0,5_HE_2", "cmod": 1.27, "defl": 1.02}, {"specimen": "0,5_HE_2", "cmod": 1.63, "defl": 1.27}, {"specimen": "0,5_HE_2", "cmod": 2.02, "defl": 1.53}, {"specimen": "0,5_HE_2", "cmod": 2.38, "defl": 1.78}, {"specimen": "0,5_HE_2", "cmod": 2.73, "defl": 2.05}, {"specimen": "0,5_HE_2", "cmod": 3.09, "defl": 2.3}, {"specimen": "0,5_HE_2", "cmod": 3.47, "defl": 2.56}, {"specimen": "0,5_HE_2", "cmod": 3.91, "defl": 2.81}, {"specimen": "0,5_HE_2", "cmod": 4.3, "defl": 3.05}, {"specimen": "0,5_HE_2", "cmod": 4.8, "defl": 3.32},
      {"specimen": "0,5_HE_3", "cmod": 0.87, "defl": 0.5}, {"specimen": "0,5_HE_3", "cmod": 1.21, "defl": 0.75}, {"specimen": "0,5_HE_3", "cmod": 1.59, "defl": 1.01}, {"specimen": "0,5_HE_3", "cmod": 1.93, "defl": 1.27}, {"specimen": "0,5_HE_3", "cmod": 2.31, "defl": 1.52}, {"specimen": "0,5_HE_3", "cmod": 2.69, "defl": 1.78}, {"specimen": "0,5_HE_3", "cmod": 3.09, "defl": 2.04}, {"specimen": "0,5_HE_3", "cmod": 3.5, "defl": 2.29}, {"specimen": "0,5_HE_3", "cmod": 3.99, "defl": 2.54}, {"specimen": "0,5_HE_3", "cmod": 4.51, "defl": 2.81}, {"specimen": "0,5_HE_3", "cmod": 4.77, "defl": 3.05},
      {"specimen": "1,0_HE_1", "cmod": 0.15, "defl": 0.25}, {"specimen": "1,0_HE_1", "cmod": 0.42, "defl": 0.51}, {"specimen": "1,0_HE_1", "cmod": 0.7, "defl": 0.77}, {"specimen": "1,0_HE_1", "cmod": 1.01, "defl": 1.03}, {"specimen": "1,0_HE_1", "cmod": 1.32, "defl": 1.29}, {"specimen": "1,0_HE_1", "cmod": 1.64, "defl": 1.55}, {"specimen": "1,0_HE_1", "cmod": 1.99, "defl": 1.79}, {"specimen": "1,0_HE_1", "cmod": 2.35, "defl": 2.05}, {"specimen": "1,0_HE_1", "cmod": 2.67, "defl": 2.3}, {"specimen": "1,0_HE_1", "cmod": 3.02, "defl": 2.56}, {"specimen": "1,0_HE_1", "cmod": 3.39, "defl": 2.81}, {"specimen": "1,0_HE_1", "cmod": 3.76, "defl": 3.06}, {"specimen": "1,0_HE_1", "cmod": 4.22, "defl": 3.33},
      {"specimen": "1,0_HE_2", "cmod": 0.18, "defl": 0.24}, {"specimen": "1,0_HE_2", "cmod": 0.47, "defl": 0.51}, {"specimen": "1,0_HE_2", "cmod": 0.74, "defl": 0.77}, {"specimen": "1,0_HE_2", "cmod": 1.06, "defl": 1.03}, {"specimen": "1,0_HE_2", "cmod": 1.39, "defl": 1.29}, {"specimen": "1,0_HE_2", "cmod": 1.7, "defl": 1.54}, {"specimen": "1,0_HE_2", "cmod": 2.06, "defl": 1.79}, {"specimen": "1,0_HE_2", "cmod": 2.42, "defl": 2.05}, {"specimen": "1,0_HE_2", "cmod": 2.76, "defl": 2.3}, {"specimen": "1,0_HE_2", "cmod": 3.1, "defl": 2.56}, {"specimen": "1,0_HE_2", "cmod": 3.45, "defl": 2.81}, {"specimen": "1,0_HE_2", "cmod": 3.79, "defl": 3.05}, {"specimen": "1,0_HE_2", "cmod": 4.14, "defl": 3.33}, {"specimen": "1,0_HE_2", "cmod": 4.49, "defl": 3.58}, {"specimen": "1,0_HE_2", "cmod": 4.88, "defl": 3.82},
      {"specimen": "1,5_HE_1", "cmod": 0.18, "defl": 0.14}, {"specimen": "1,5_HE_1", "cmod": 0.52, "defl": 0.41}, {"specimen": "1,5_HE_1", "cmod": 1.01, "defl": 0.76}, {"specimen": "1,5_HE_1", "cmod": 1.59, "defl": 1.17}, {"specimen": "1,5_HE_1", "cmod": 2.24, "defl": 1.64}, {"specimen": "1,5_HE_1", "cmod": 2.87, "defl": 2.09}, {"specimen": "1,5_HE_1", "cmod": 3.6, "defl": 2.58}, {"specimen": "1,5_HE_1", "cmod": 4.51, "defl": 3.05}, {"specimen": "1,5_HE_1", "cmod": 4.8, "defl": 3.56},
      {"specimen": "1,5_HE_2", "cmod": 0.28, "defl": 0.25}, {"specimen": "1,5_HE_2", "cmod": 0.6, "defl": 0.52}, {"specimen": "1,5_HE_2", "cmod": 0.94, "defl": 0.77}, {"specimen": "1,5_HE_2", "cmod": 1.29, "defl": 1.02}, {"specimen": "1,5_HE_2", "cmod": 1.64, "defl": 1.27}, {"specimen": "1,5_HE_2", "cmod": 2.01, "defl": 1.54}, {"specimen": "1,5_HE_2", "cmod": 2.35, "defl": 1.79}, {"specimen": "1,5_HE_2", "cmod": 2.64, "defl": 2.05}, {"specimen": "1,5_HE_2", "cmod": 2.92, "defl": 2.3}, {"specimen": "1,5_HE_2", "cmod": 3.22, "defl": 2.56}, {"specimen": "1,5_HE_2", "cmod": 3.55, "defl": 2.81}, {"specimen": "1,5_HE_2", "cmod": 3.94, "defl": 3.05}, {"specimen": "1,5_HE_2", "cmod": 4.42, "defl": 3.33}, {"specimen": "1,5_HE_2", "cmod": 4.82, "defl": 3.57},
      {"specimen": "1,5_HE_3", "cmod": 0.23, "defl": 0.25}, {"specimen": "1,5_HE_3", "cmod": 0.56, "defl": 0.52}, {"specimen": "1,5_HE_3", "cmod": 0.9, "defl": 0.75}, {"specimen": "1,5_HE_3", "cmod": 1.26, "defl": 1.02}, {"specimen": "1,5_HE_3", "cmod": 1.64, "defl": 1.27}, {"specimen": "1,5_HE_3", "cmod": 2.05, "defl": 1.54}, {"specimen": "1,5_HE_3", "cmod": 2.46, "defl": 1.79}, {"specimen": "1,5_HE_3", "cmod": 2.87, "defl": 2.05}, {"specimen": "1,5_HE_3", "cmod": 3.32, "defl": 2.3}, {"specimen": "1,5_HE_3", "cmod": 3.83, "defl": 2.56}, {"specimen": "1,5_HE_3", "cmod": 4.4, "defl": 2.81}, {"specimen": "1,5_HE_3", "cmod": 4.87, "defl": 3.05}, {"specimen": "1,5_HE_3", "cmod": 4.93, "defl": 3.33}
    ]
  },
  "hconcat": [
    {
      "width": 462,
      "height": 377,
      "title": {"text": "Straight steel fibers", "fontSize": 31, "fontWeight": "bold", "anchor": "middle", "frame": "group", "baseline": "alphabetic", "offset": -25, "dx": 5, "color": "#111"},
      "layer": [
        {
          "data": {"name": "S_cross"},
          "mark": {"type": "rule", "color": "#333333", "strokeWidth": 1, "clip": false},
          "encoding": {
            "x": {"field": "cmod_lo", "type": "quantitative", "scale": {"domain": [0, 5], "nice": false, "zero": false}, "axis": {"values": [0, 1, 2, 3, 4, 5], "format": "d", "title": "CMOD [mm]", "titleFontSize": 27, "titlePadding": 15, "labelFontSize": 20, "tickSize": 6, "labelPadding": 14}},
            "x2": {"field": "cmod_hi"},
            "y": {"field": "defl", "type": "quantitative", "scale": {"domain": [0, 5], "nice": false, "zero": false}, "axis": {"values": [0, 1, 2, 3, 4, 5], "format": "d", "title": "Deflection [mm]", "titleFontSize": 24.5, "titleX": 26, "titleY": 104, "titleAngle": -90, "titleAlign": "center", "titleBaseline": "middle", "labelFontSize": 20, "tickSize": 8, "labelPadding": 10}}
          }
        },
        {
          "data": {"name": "S_cross"},
          "mark": {"type": "rule", "color": "#333333", "strokeWidth": 1, "clip": false},
          "encoding": {
            "x": {"field": "cmod", "type": "quantitative", "scale": {"domain": [0, 5], "nice": false, "zero": false}, "axis": {"values": [0, 1, 2, 3, 4, 5], "format": "d", "title": "CMOD [mm]", "titleFontSize": 27, "titlePadding": 15, "labelFontSize": 20, "tickSize": 6, "labelPadding": 14}},
            "y": {"field": "defl_lo", "type": "quantitative", "scale": {"domain": [0, 5], "nice": false, "zero": false}, "axis": {"values": [0, 1, 2, 3, 4, 5], "format": "d", "title": "Deflection [mm]", "titleFontSize": 24.5, "titleX": 26, "titleY": 104, "titleAngle": -90, "titleAlign": "center", "titleBaseline": "middle", "labelFontSize": 20, "tickSize": 8, "labelPadding": 10}},
            "y2": {"field": "defl_hi"}
          }
        },
        {
          "data": {"name": "S_curves"},
          "mark": {"type": "line", "clip": false},
          "encoding": {
            "x": {"field": "cmod", "type": "quantitative", "scale": {"domain": [0, 5], "nice": false, "zero": false}, "axis": {"values": [0, 1, 2, 3, 4, 5], "format": "d", "title": "CMOD [mm]", "titleFontSize": 27, "titlePadding": 15, "labelFontSize": 20, "tickSize": 6, "labelPadding": 14}},
            "y": {"field": "defl", "type": "quantitative", "scale": {"domain": [0, 5], "nice": false, "zero": false}, "axis": {"values": [0, 1, 2, 3, 4, 5], "format": "d", "title": "Deflection [mm]", "titleFontSize": 24.5, "titleX": 26, "titleY": 104, "titleAngle": -90, "titleAlign": "center", "titleBaseline": "middle", "labelFontSize": 20, "tickSize": 8, "labelPadding": 10}},
            "order": {"field": "defl", "type": "quantitative"},
            "strokeWidth": {"field": "series", "type": "nominal", "scale": {"domain": ["1,5_S_3", "1,5_S_2", "1,5_S_1", "1,0_S_3", "1,0_S_2", "1,0_S_1", "0,5_S_3", "0,5_S_2", "0,5_S_1"], "range": [1.2, 2, 2, 2, 2.6, 2, 1.5, 2, 2]}, "legend": null},
            "color": {
              "field": "series", "type": "nominal",
              "scale": {"domain": ["0,5_S_1", "0,5_S_2", "0,5_S_3", "1,0_S_1", "1,0_S_2", "1,0_S_3", "1,5_S_1", "1,5_S_2", "1,5_S_3"], "range": ["#8DC63F", "#1F7A1F", "#8C8C8C", "#F26A2A", "#FF1A1A", "#A5461E", "#33CCFF", "#000000", "#3366FF"]},
              "legend": {
                "title": null, "orient": "none", "legendX": 86, "legendY": 10, "padding": 0,
                "labelFontSize": 19.5, "labelColor": "#111", "labelOffset": 4, "rowPadding": 0, "clipHeight": 18.6,
                "symbolSize": 324, "symbolStrokeWidth": 1.8,
                "encode": {"symbols": {"update": {
                  "shape": {"signal": "['M-1.4,0H-0.6M0.6,0H1.4M0,-0.55L0.6,0.45H-0.6Z','M-1.4,0H-0.55M0.55,0H1.4M0,-0.55L0.55,0L0,0.55L-0.55,0Z','M-1.4,0H1.4M-0.5,-0.5L0.5,0.5M-0.5,0.5L0.5,-0.5','M-1.4,0H1.4M0,-0.6V0.6','M-1.4,0H-0.55M0.55,0H1.4M0.55,0A0.55,0.55,0,1,1,-0.55,0A0.55,0.55,0,1,1,0.55,0Z','M-1.4,0H-0.5M0.5,0H1.4M-0.5,-0.5H0.5V0.5H-0.5Z','M-1.4,0H-0.55M0.55,0H1.4M0.55,0A0.55,0.55,0,1,1,-0.55,0A0.55,0.55,0,1,1,0.55,0Z','M-1.4,0H-0.5M0.5,0H1.4M-0.5,-0.5H0.5V0.5H-0.5Z','M-1.4,0H-0.55M0.55,0H1.4M0,-0.55L0.55,0L0,0.55L-0.55,0Z'][indexof(['0,5_S_1','0,5_S_2','0,5_S_3','1,0_S_1','1,0_S_2','1,0_S_3','1,5_S_1','1,5_S_2','1,5_S_3'], datum.value)]"},
                  "fill": {"signal": "['#8DC63F','#1F7A1F','#8C8C8C','#F26A2A','#FF1A1A','#A5461E','#CCFFFF','#B4B4B4','#3366FF'][indexof(['0,5_S_1','0,5_S_2','0,5_S_3','1,0_S_1','1,0_S_2','1,0_S_3','1,5_S_1','1,5_S_2','1,5_S_3'], datum.value)]"},
                  "stroke": {"signal": "['#8DC63F','#1F7A1F','#8C8C8C','#F26A2A','#FF1A1A','#A5461E','#33CCFF','#222222','#3366FF'][indexof(['0,5_S_1','0,5_S_2','0,5_S_3','1,0_S_1','1,0_S_2','1,0_S_3','1,5_S_1','1,5_S_2','1,5_S_3'], datum.value)]"}
                }}}
              }
            }
          }
        },
        {
          "data": {"name": "S_markers"},
          "mark": {"type": "point", "opacity": 1, "strokeWidth": 1, "size": 85, "clip": false},
          "encoding": {
            "x": {"field": "cmod", "type": "quantitative", "scale": {"domain": [0, 5], "nice": false, "zero": false}, "axis": {"values": [0, 1, 2, 3, 4, 5], "format": "d", "title": "CMOD [mm]", "titleFontSize": 27, "titlePadding": 15, "labelFontSize": 20, "tickSize": 6, "labelPadding": 14}},
            "y": {"field": "defl", "type": "quantitative", "scale": {"domain": [0, 5], "nice": false, "zero": false}, "axis": {"values": [0, 1, 2, 3, 4, 5], "format": "d", "title": "Deflection [mm]", "titleFontSize": 24.5, "titleX": 26, "titleY": 104, "titleAngle": -90, "titleAlign": "center", "titleBaseline": "middle", "labelFontSize": 20, "tickSize": 8, "labelPadding": 10}},
            "shape": {"field": "specimen", "type": "nominal", "scale": {"domain": ["1,5_S_3", "1,5_S_2", "1,5_S_1", "1,0_S_3", "1,0_S_2", "1,0_S_1", "0,5_S_3", "0,5_S_2", "0,5_S_1"], "range": ["M0,-1.05L1,0L0,1.05L-1,0Z", "M-0.95,-0.95H0.95V0.95H-0.95Z", "circle", "M-0.95,-0.95H0.95V0.95H-0.95Z", "circle", "M-1.2,0H1.2M0,-1.2V1.2", "M-1,-1L1,1M-1,1L1,-1", "M0,-1.05L1,0L0,1.05L-1,0Z", "M0,-1.1L1.15,0.85L-1.15,0.85Z"]}, "legend": null},
            "fill": {"field": "specimen", "type": "nominal", "scale": {"domain": ["1,5_S_3", "1,5_S_2", "1,5_S_1", "1,0_S_3", "1,0_S_2", "1,0_S_1", "0,5_S_3", "0,5_S_2", "0,5_S_1"], "range": ["#3366FF", "#B4B4B4", "#CCFFFF", "#A5461E", "#FF1A1A", "#F26A2A", "#8C8C8C", "#1F7A1F", "#8DC63F"]}, "legend": null},
            "stroke": {"field": "specimen", "type": "nominal", "scale": {"domain": ["1,5_S_3", "1,5_S_2", "1,5_S_1", "1,0_S_3", "1,0_S_2", "1,0_S_1", "0,5_S_3", "0,5_S_2", "0,5_S_1"], "range": ["#2244CC", "#333333", "#333333", "#A5461E", "#FF1A1A", "#F26A2A", "#555555", "#1F7A1F", "#8DC63F"]}, "legend": null}
          }
        }
      ]
    },
    {
      "width": 462,
      "height": 377,
      "title": {"text": "Hooked end steel fibers", "fontSize": 31, "fontWeight": "bold", "anchor": "middle", "frame": "group", "baseline": "alphabetic", "offset": -25, "dx": 3, "color": "#111"},
      "layer": [
        {
          "data": {"name": "HE_curves"},
          "mark": {"type": "line", "clip": false},
          "encoding": {
            "x": {"field": "cmod", "type": "quantitative", "scale": {"domain": [0, 5], "nice": false, "zero": false}, "axis": {"values": [0, 1, 2, 3, 4, 5], "format": "d", "title": "CMOD [mm]", "titleFontSize": 27, "titlePadding": 15, "labelFontSize": 20, "tickSize": 6, "labelPadding": 14}},
            "y": {"field": "defl", "type": "quantitative", "scale": {"domain": [0, 5], "nice": false, "zero": false}, "axis": {"values": [0, 1, 2, 3, 4, 5], "format": "d", "title": "Deflection [mm]", "titleFontSize": 24.5, "titleX": 25, "titleY": 101, "titleAngle": -90, "titleAlign": "center", "titleBaseline": "middle", "labelFontSize": 20, "tickSize": 7, "labelPadding": 2}},
            "order": {"field": "defl", "type": "quantitative"},
            "strokeWidth": {"field": "series", "type": "nominal", "scale": {"domain": ["1,5_HE_3", "1,5_HE_2", "1,5_HE_1", "1,0_HE_2", "1,0_HE_1", "0,5_HE_3", "0,5_HE_2", "0,5_HE_1"], "range": [1.2, 2, 2, 2.4, 2, 1.5, 2, 2]}, "legend": null},
            "color": {
              "field": "series", "type": "nominal",
              "scale": {"domain": ["0,5_HE_1", "0,5_HE_2", "0,5_HE_3", "1,0_HE_1", "1,0_HE_2", "1,5_HE_1", "1,5_HE_2", "1,5_HE_3"], "range": ["#8DC63F", "#1F7A1F", "#5E6B45", "#F26A2A", "#FF1A1A", "#33CCFF", "#000000", "#3366FF"]},
              "legend": {
                "title": null, "orient": "none", "legendX": 340, "legendY": 223, "padding": 0,
                "labelFontSize": 19, "labelColor": "#111", "labelOffset": 4, "rowPadding": 0, "clipHeight": 18.8,
                "symbolSize": 324, "symbolStrokeWidth": 1.8,
                "encode": {"symbols": {"update": {
                  "shape": {"signal": "['M-1.4,0H-0.6M0.6,0H1.4M0,-0.55L0.6,0.45H-0.6Z','M-1.4,0H-0.55M0.55,0H1.4M0,-0.55L0.55,0L0,0.55L-0.55,0Z','M-1.4,0H1.4M-0.5,-0.5L0.5,0.5M-0.5,0.5L0.5,-0.5','M-1.4,0H1.4M0,-0.6V0.6','M-1.4,0H-0.55M0.55,0H1.4M0.55,0A0.55,0.55,0,1,1,-0.55,0A0.55,0.55,0,1,1,0.55,0Z','M-1.4,0H-0.55M0.55,0H1.4M0.55,0A0.55,0.55,0,1,1,-0.55,0A0.55,0.55,0,1,1,0.55,0Z','M-1.4,0H-0.5M0.5,0H1.4M-0.5,-0.5H0.5V0.5H-0.5Z','M-1.4,0H-0.55M0.55,0H1.4M0,-0.55L0.55,0L0,0.55L-0.55,0Z'][indexof(['0,5_HE_1','0,5_HE_2','0,5_HE_3','1,0_HE_1','1,0_HE_2','1,5_HE_1','1,5_HE_2','1,5_HE_3'], datum.value)]"},
                  "fill": {"signal": "['#8DC63F','#1F7A1F','#8C8C8C','#F26A2A','#FF1A1A','#CCFFFF','#B4B4B4','#3366FF'][indexof(['0,5_HE_1','0,5_HE_2','0,5_HE_3','1,0_HE_1','1,0_HE_2','1,5_HE_1','1,5_HE_2','1,5_HE_3'], datum.value)]"},
                  "stroke": {"signal": "['#8DC63F','#1F7A1F','#8C8C8C','#F26A2A','#FF1A1A','#33CCFF','#222222','#3366FF'][indexof(['0,5_HE_1','0,5_HE_2','0,5_HE_3','1,0_HE_1','1,0_HE_2','1,5_HE_1','1,5_HE_2','1,5_HE_3'], datum.value)]"}
                }}}
              }
            }
          }
        },
        {
          "data": {"name": "HE_fit"},
          "mark": {"type": "line", "color": "#FF2020", "strokeWidth": 3.2, "strokeDash": [20, 10], "clip": false},
          "encoding": {
            "x": {"field": "cmod", "type": "quantitative", "scale": {"domain": [0, 5], "nice": false, "zero": false}, "axis": {"values": [0, 1, 2, 3, 4, 5], "format": "d", "title": "CMOD [mm]", "titleFontSize": 27, "titlePadding": 15, "labelFontSize": 20, "tickSize": 6, "labelPadding": 14}},
            "y": {"field": "defl", "type": "quantitative", "scale": {"domain": [0, 5], "nice": false, "zero": false}, "axis": {"values": [0, 1, 2, 3, 4, 5], "format": "d", "title": "Deflection [mm]", "titleFontSize": 24.5, "titleX": 25, "titleY": 101, "titleAngle": -90, "titleAlign": "center", "titleBaseline": "middle", "labelFontSize": 20, "tickSize": 7, "labelPadding": 2}}
          }
        },
        {
          "data": {"name": "HE_markers"},
          "mark": {"type": "point", "opacity": 1, "strokeWidth": 1, "size": 85, "clip": false},
          "encoding": {
            "x": {"field": "cmod", "type": "quantitative", "scale": {"domain": [0, 5], "nice": false, "zero": false}, "axis": {"values": [0, 1, 2, 3, 4, 5], "format": "d", "title": "CMOD [mm]", "titleFontSize": 27, "titlePadding": 15, "labelFontSize": 20, "tickSize": 6, "labelPadding": 14}},
            "y": {"field": "defl", "type": "quantitative", "scale": {"domain": [0, 5], "nice": false, "zero": false}, "axis": {"values": [0, 1, 2, 3, 4, 5], "format": "d", "title": "Deflection [mm]", "titleFontSize": 24.5, "titleX": 25, "titleY": 101, "titleAngle": -90, "titleAlign": "center", "titleBaseline": "middle", "labelFontSize": 20, "tickSize": 7, "labelPadding": 2}},
            "shape": {"field": "specimen", "type": "nominal", "scale": {"domain": ["1,5_HE_3", "1,5_HE_2", "1,5_HE_1", "1,0_HE_2", "1,0_HE_1", "0,5_HE_3", "0,5_HE_2", "0,5_HE_1"], "range": ["M0,-1.05L1,0L0,1.05L-1,0Z", "M-0.95,-0.95H0.95V0.95H-0.95Z", "circle", "circle", "M-1.2,0H1.2M0,-1.2V1.2", "M-1,-1L1,1M-1,1L1,-1", "M0,-1.05L1,0L0,1.05L-1,0Z", "M0,-1.1L1.15,0.85L-1.15,0.85Z"]}, "legend": null},
            "fill": {"field": "specimen", "type": "nominal", "scale": {"domain": ["1,5_HE_3", "1,5_HE_2", "1,5_HE_1", "1,0_HE_2", "1,0_HE_1", "0,5_HE_3", "0,5_HE_2", "0,5_HE_1"], "range": ["#3366FF", "#B4B4B4", "#CCFFFF", "#FF1A1A", "#F26A2A", "#444444", "#1F7A1F", "#8DC63F"]}, "legend": null},
            "stroke": {"field": "specimen", "type": "nominal", "scale": {"domain": ["1,5_HE_3", "1,5_HE_2", "1,5_HE_1", "1,0_HE_2", "1,0_HE_1", "0,5_HE_3", "0,5_HE_2", "0,5_HE_1"], "range": ["#2244CC", "#333333", "#333333", "#FF1A1A", "#F26A2A", "#444444", "#1F7A1F", "#8DC63F"]}, "legend": null}
          }
        }
      ]
    }
  ]
}
